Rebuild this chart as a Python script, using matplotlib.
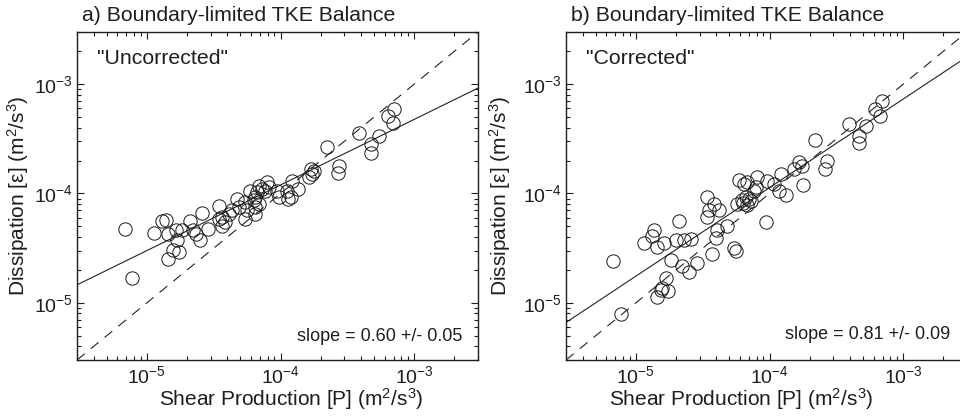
import numpy as np
import matplotlib
matplotlib.use("Agg")
import matplotlib.pyplot as plt
from matplotlib.ticker import LogLocator, FixedLocator, NullFormatter

plt.rcParams['font.family'] = ['Liberation Sans', 'DejaVu Sans']
plt.rcParams['mathtext.default'] = 'regular'

# ---- data ----
P_uncorr = [6.8e-6, 7.7e-6, 1.13e-5, 1.29e-5, 1.38e-5, 1.43e-5, 1.64e-5, 1.67e-5, 1.58e-5, 1.74e-5,
            1.45e-5, 1.83e-5, 2.09e-5, 2.2e-5, 2.34e-5, 2.5e-5, 2.58e-5, 2.87e-5, 3.44e-5, 3.48e-5,
            3.66e-5, 3.86e-5, 4.09e-5, 4.33e-5, 4.72e-5, 4.86e-5, 5.46e-5, 5.62e-5, 5.46e-5, 5.95e-5,
            6.3e-5, 6.49e-5, 6.49e-5, 6.68e-5, 6.87e-5, 6.87e-5, 6.49e-5, 7.94e-5, 8.17e-5, 7.71e-5,
            9.44e-5, 9.71e-5, 1.12e-4, 1.19e-4, 1.22e-4, 1.34e-4, 1.13e-4, 1.68e-4, 1.73e-4, 1.78e-4,
            1.63e-4, 2.24e-4, 2.74e-4, 2.67e-4, 3.88e-4, 4.75e-4, 4.75e-4, 5.48e-4, 6.34e-4, 7.11e-4,
            6.92e-4, 7.32e-5, 3.66e-5]
eps_uncorr = [4.7e-5, 1.67e-5, 4.37e-5, 5.6e-5, 5.7e-5, 4.28e-5, 4.66e-5, 3.79e-5, 3.03e-5, 2.93e-5,
              2.52e-5, 4.61e-5, 5.62e-5, 4.61e-5, 4.3e-5, 3.74e-5, 6.61e-5, 4.71e-5, 7.62e-5, 5.8e-5,
              6.11e-5, 5.5e-5, 6.44e-5, 7.0e-5, 8.95e-5, 7.5e-5, 5.89e-5, 7.11e-5, 8.34e-5, 1.06e-4,
              8.76e-5, 7.5e-5, 6.53e-5, 1.03e-4, 1.18e-4, 7.94e-5, 9.25e-5, 1.27e-4, 1.14e-4, 1.06e-4,
              1.06e-4, 9.25e-5, 1.06e-4, 9.25e-5, 1.31e-4, 1.1e-4, 8.91e-5, 1.68e-4, 1.51e-4, 1.62e-4,
              1.41e-4, 2.64e-4, 1.8e-4, 1.54e-4, 3.61e-4, 2.83e-4, 2.37e-4, 3.37e-4, 5.12e-4, 5.89e-4,
              4.45e-4, 1.11e-4, 5.01e-5]

P_corr = [6.79e-6, 7.8e-6, 1.15e-5, 1.32e-5, 1.37e-5, 1.45e-5, 1.63e-5, 1.82e-5, 1.67e-5, 1.58e-5,
          1.75e-5, 1.45e-5, 1.54e-5, 1.99e-5, 2.1e-5, 2.2e-5, 2.29e-5, 2.6e-5, 2.5e-5, 2.89e-5,
          3.43e-5, 3.43e-5, 3.52e-5, 3.84e-5, 4.19e-5, 3.73e-5, 3.95e-5, 4.07e-5, 4.83e-5, 5.42e-5,
          5.57e-5, 5.9e-5, 5.74e-5, 6.25e-5, 6.43e-5, 6.82e-5, 6.62e-5, 6.97e-5, 6.29e-5, 7.21e-5,
          6.73e-5, 7.64e-5, 8.09e-5, 7.87e-5, 9.42e-5, 9.62e-5, 1.08e-4, 1.21e-4, 1.17e-4, 1.32e-4,
          1.52e-4, 1.66e-4, 1.75e-4, 1.78e-4, 2.2e-4, 2.7e-4, 2.62e-4, 3.91e-4, 4.64e-4, 4.64e-4,
          5.3e-4, 6.18e-4, 6.93e-4, 6.73e-4]
eps_corr = [2.41e-5, 7.94e-6, 3.49e-5, 4.06e-5, 4.68e-5, 3.26e-5, 3.49e-5, 2.46e-5, 1.69e-5, 1.38e-5,
            1.29e-5, 1.14e-5, 1.31e-5, 3.74e-5, 5.62e-5, 2.19e-5, 3.74e-5, 3.82e-5, 1.91e-5, 2.33e-5,
            9.25e-5, 6.09e-5, 7.0e-5, 8.06e-5, 7.0e-5, 2.79e-5, 3.9e-5, 4.61e-5, 5.07e-5, 3.2e-5,
            2.97e-5, 1.34e-4, 8.06e-5, 8.64e-5, 1.21e-4, 1.27e-4, 9.2e-5, 8.82e-5, 8.11e-5, 8.46e-5,
            7.78e-5, 1.06e-4, 1.41e-4, 1.14e-4, 5.48e-5, 1.31e-4, 1.22e-4, 1.51e-4, 1.06e-4, 9.6e-5,
            1.68e-4, 1.95e-4, 1.8e-4, 1.2e-4, 3.08e-4, 2.0e-4, 1.69e-4, 4.36e-4, 3.37e-4, 2.87e-4,
            4.15e-4, 5.89e-4, 7.0e-4, 5.12e-4]

# fit lines: log10(eps) = intercept + slope * log10(P)
fit_slopes = [0.60, 0.81]
fit_intercepts = [-1.522, -0.706]
slope_texts = ["slope = 0.60 +/- 0.05", "slope = 0.81 +/- 0.09"]
panel_titles = ["a) Boundary-limited TKE Balance", "b) Boundary-limited TKE Balance"]
panel_notes = ['"Uncorrected"', '"Corrected"']
xlim = (3e-6, 3e-3)
ylim = (3e-6, 3e-3)
major_ticks = [1e-5, 1e-4, 1e-3]
tick_labels = ['$10^{-5}$', '$10^{-4}$', '$10^{-3}$']

fig = plt.figure(figsize=(9.6, 4.17), dpi=100)
W, H = 960.0, 417.0
ax_h = (360 - 32) / H
ax_w = 401 / W
axes = [fig.add_axes([77 / W, (H - 360) / H, ax_w, ax_h]),
        fig.add_axes([566 / W, (H - 360) / H, ax_w, ax_h])]

data = [(P_uncorr, eps_uncorr), (P_corr, eps_corr)]
ylabel_x = [-0.146, -0.165]
xlabel_x = [0.534, 0.438]
txtcol = '#1e1e1e'
for i, ax in enumerate(axes):
    P, E = data[i]
    ax.set_xscale('log')
    ax.set_yscale('log')
    ax.set_xlim(*xlim)
    ax.set_ylim(*ylim)
    # 1:1 line
    xx = np.array(xlim)
    ax.plot(xx, xx, color='#222222', lw=0.8, dashes=(9, 7))
    # fit line
    ax.plot(xx, 10 ** (fit_intercepts[i] + fit_slopes[i] * np.log10(xx)), color='#222222', lw=0.8)
    ax.plot(P, E, 'o', ms=9.6, mfc='none', mec='#1a1a1a', mew=0.7, ls='none')

    ax.xaxis.set_major_locator(FixedLocator(major_ticks))
    ax.yaxis.set_major_locator(FixedLocator(major_ticks))
    ax.set_xticklabels(tick_labels)
    ax.set_yticklabels(tick_labels)
    ax.xaxis.set_minor_locator(LogLocator(base=10, subs=np.arange(2, 10), numticks=20))
    ax.yaxis.set_minor_locator(LogLocator(base=10, subs=np.arange(2, 10), numticks=20))
    ax.xaxis.set_minor_formatter(NullFormatter())
    ax.yaxis.set_minor_formatter(NullFormatter())
    ax.tick_params(which='both', direction='in', top=True, right=True, labelsize=14,
                   colors='#1e1e1e', width=0.8)
    ax.tick_params(which='major', length=5)
    ax.tick_params(which='minor', length=3)
    ax.tick_params(axis='x', which='major', pad=4)
    ax.tick_params(axis='y', which='major', pad=3)
    for s in ax.spines.values():
        s.set_linewidth(1.0)
        s.set_color('#1e1e1e')

    ax.set_xlabel('Shear Production [P] (m$^2$/s$^3$)', fontsize=15, color=txtcol)
    ax.xaxis.set_label_coords(xlabel_x[i], -0.08)
    ax.set_ylabel('Dissipation [ε] (m$^2$/s$^3$)', fontsize=15, color=txtcol)
    ax.yaxis.set_label_coords(ylabel_x[i], 0.5)
    ax.yaxis.label.set_va('center')
    ax.text(0.012, 1.05, panel_titles[i], transform=ax.transAxes, fontsize=15.3,
            ha='left', va='center', color=txtcol)
    ax.text(0.05, 0.92, panel_notes[i], transform=ax.transAxes, fontsize=15.3,
            ha='left', va='center', color=txtcol)
    ax.text(0.962 if i == 0 else 0.958, 0.073 if i == 0 else 0.079, slope_texts[i],
            transform=ax.transAxes, fontsize=13, ha='right', va='center', color=txtcol)

fig.savefig('out.png', dpi=100)
